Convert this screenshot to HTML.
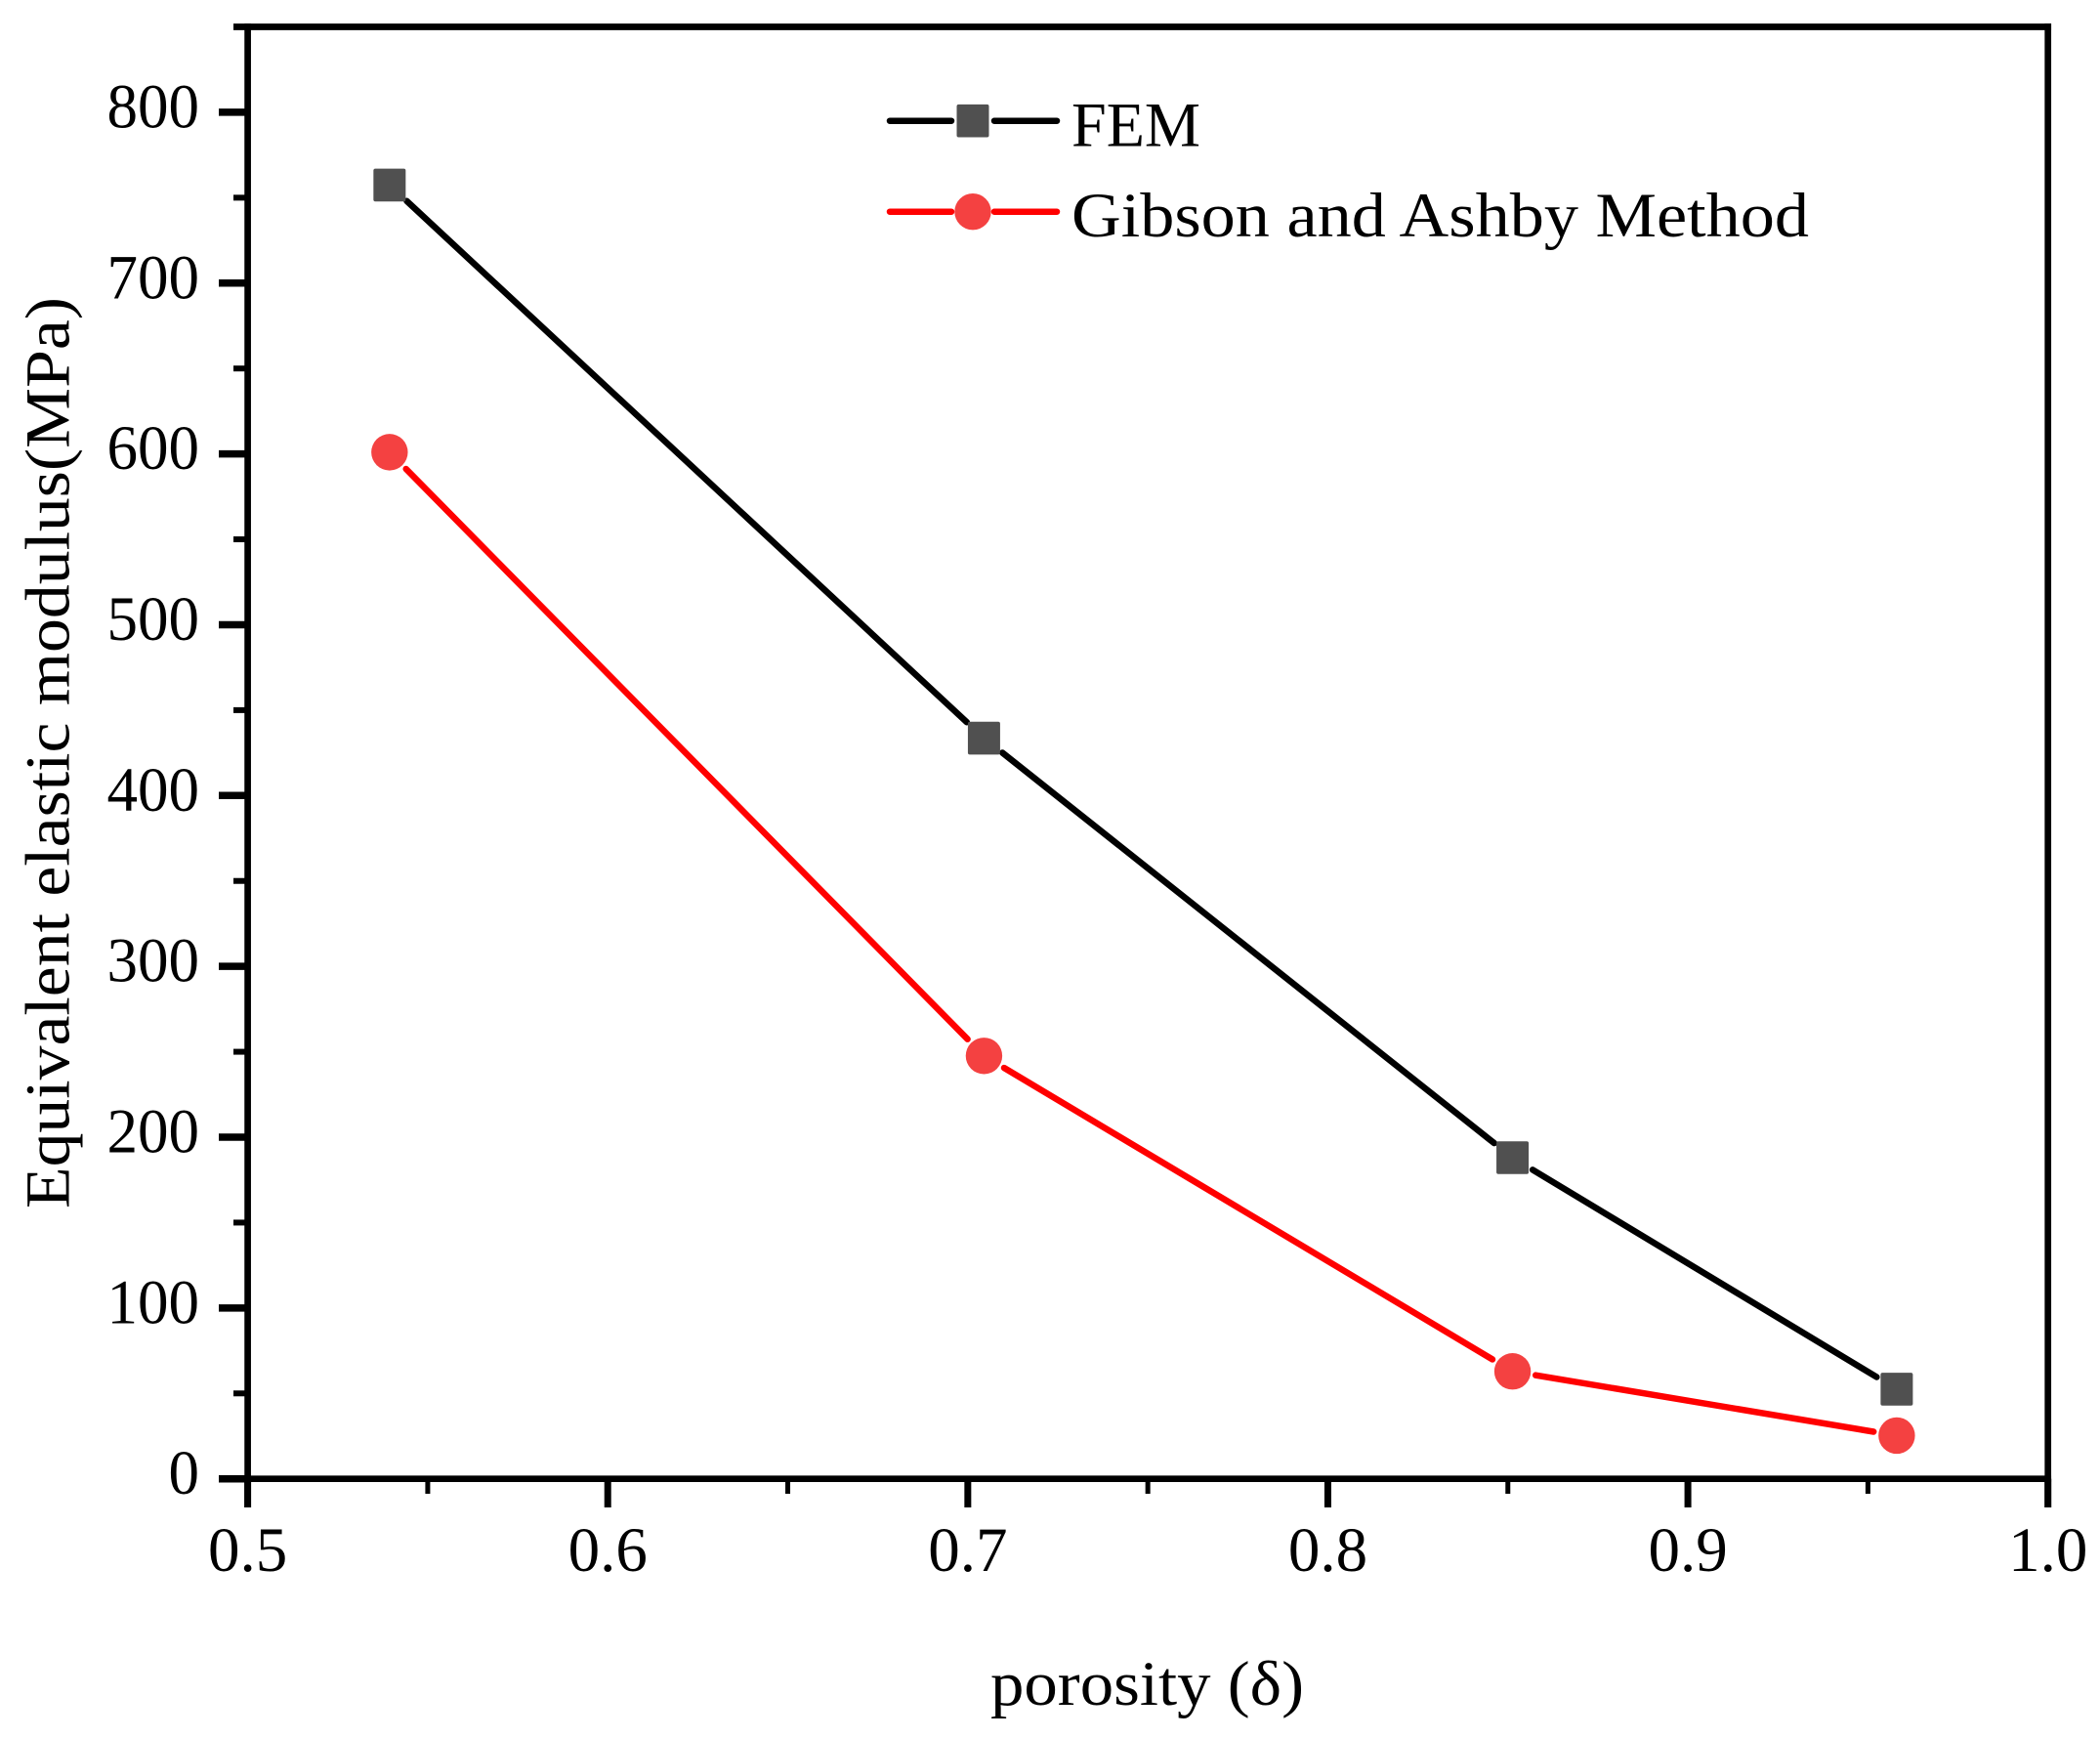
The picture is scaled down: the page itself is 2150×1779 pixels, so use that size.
<!DOCTYPE html>
<html lang="en">
<head>
<meta charset="utf-8">
<title>Equivalent elastic modulus vs porosity</title>
<style>
  html, body { margin: 0; padding: 0; background: #fff; }
  svg { display: block; }
  text { font-family: "Liberation Serif", serif; fill: #000; }
</style>
</head>
<body>
<svg id="chart" xmlns="http://www.w3.org/2000/svg" width="2150" height="1779" viewBox="0 0 2150 1779">
  <rect x="0" y="0" width="2150" height="1779" fill="#ffffff"/>
  <g id="axes"></g>
  <g id="series"></g>
  <g id="legend"></g>
  <text x="1014" y="1745" font-size="65" textLength="321" lengthAdjust="spacingAndGlyphs">porosity (δ)</text>
  <text transform="translate(70.7 1237) rotate(-90)" x="0" y="0" font-size="65" textLength="933" lengthAdjust="spacingAndGlyphs">Equivalent elastic modulus(MPa)</text>
</svg>
<script>
const porosity = [0.5394, 0.7045, 0.8513, 0.958];
const femValues = [757.4, 433.6, 188, 52.5];
const gibsonValues = [601, 247.6, 62.9, 25.3];
const xTickLabels = ["0.5", "0.6", "0.7", "0.8", "0.9", "1.0"];
const xMinorTicks = [0.55, 0.65, 0.75, 0.85, 0.95];
const yTickLabels = ["0", "100", "200", "300", "400", "500", "600", "700", "800"];
const yMinorTicks = [50, 150, 250, 350, 450, 550, 650, 750];
const legendNames = ["FEM", "Gibson and Ashby Method"];

const NS = "http://www.w3.org/2000/svg";
const xDomain = [0.5, 1.0];
const yDomain = [0, 850];
const plotLeft = 253.6, plotRight = 2096.7, plotBottom = 1513.7, plotTop = 27.5;

function xScale(v) {
  return plotLeft + (v - xDomain[0]) / (xDomain[1] - xDomain[0]) * (plotRight - plotLeft);
}
function yScale(v) {
  return plotBottom - (v - yDomain[0]) / (yDomain[1] - yDomain[0]) * (plotBottom - plotTop);
}
function make(tag, attrs, parent) {
  const el = document.createElementNS(NS, tag);
  for (const k in attrs) el.setAttribute(k, attrs[k]);
  parent.appendChild(el);
  return el;
}

const axes = document.getElementById("axes");
const series = document.getElementById("series");
const legend = document.getElementById("legend");

/* axis frame */
const axisWidth = 6.7;
let frame;
frame = make("line", {x1: plotLeft, y1: plotTop - axisWidth / 2, x2: plotLeft, y2: 1543, stroke: "#000", "stroke-width": axisWidth}, axes);


frame = make("line", {x1: plotRight, y1: plotTop - axisWidth / 2, x2: plotRight, y2: 1543, stroke: "#000", "stroke-width": axisWidth}, axes);


frame = make("line", {x1: 239, y1: plotTop, x2: plotRight + axisWidth / 2, y2: plotTop, stroke: "#000", "stroke-width": axisWidth}, axes);


frame = make("line", {x1: 224, y1: plotBottom, x2: plotRight + axisWidth / 2, y2: plotBottom, stroke: "#000", "stroke-width": axisWidth}, axes);



/* x ticks */
xTickLabels.forEach(function (label) {
  const v = parseFloat(label);
  const x = xScale(v);
  const tick = make("line", {x1: x, y1: plotBottom, x2: x, y2: 1543, stroke: "#000", "stroke-width": 7}, axes);
  
  
  const t = make("text", {x: x, y: 1608, "font-size": 65, "text-anchor": "middle"}, axes);
  
  
  t.textContent = label;
});
xMinorTicks.forEach(function (v) {
  const x = xScale(v);
  const tick = make("line", {x1: x, y1: plotBottom, x2: x, y2: 1529, stroke: "#000", "stroke-width": 5}, axes);
  
  
});

/* y ticks */
yTickLabels.forEach(function (label) {
  const v = parseFloat(label);
  const y = yScale(v);
  const tick = make("line", {x1: 224, y1: y, x2: plotLeft, y2: y, stroke: "#000", "stroke-width": 7.5}, axes);
  
  
  const t = make("text", {x: 204, y: y + 15.5, "font-size": 65, "text-anchor": "end", textLength: label.length * 31.5, lengthAdjust: "spacingAndGlyphs"}, axes);
  
  
  t.textContent = label;
});
yMinorTicks.forEach(function (v) {
  const y = yScale(v);
  const tick = make("line", {x1: 239, y1: y, x2: plotLeft, y2: y, stroke: "#000", "stroke-width": 6}, axes);
  
  
});

/* series: segments are trimmed so they stop short of each marker */
const markerGap = 24;
function drawSegments(values, color, name) {
  for (let i = 0; i < values.length - 1; i++) {
    const x1 = xScale(porosity[i]), y1 = yScale(values[i]);
    const x2 = xScale(porosity[i + 1]), y2 = yScale(values[i + 1]);
    const len = Math.hypot(x2 - x1, y2 - y1);
    const ux = (x2 - x1) / len, uy = (y2 - y1) / len;
    const seg = make("line", {
      x1: x1 + ux * markerGap, y1: y1 + uy * markerGap,
      x2: x2 - ux * markerGap, y2: y2 - uy * markerGap,
      stroke: color, "stroke-width": 6.5, "stroke-linecap": "round"
    }, series);
    
    
  }
}
drawSegments(femValues, "#000000", "fem-line-segment");
drawSegments(gibsonValues, "#ff0000", "gibson-line-segment");

femValues.forEach(function (v, i) {
  const cx = xScale(porosity[i]), cy = yScale(v);
  const m = make("rect", {x: cx - 16.5, y: cy - 16.8, width: 33, height: 33.6, rx: 2, fill: "#505050"}, series);
  
  
});
gibsonValues.forEach(function (v, i) {
  const cx = xScale(porosity[i]), cy = yScale(v);
  const m = make("circle", {cx: cx, cy: cy, r: 18.7, fill: "#f44141"}, series);
  
  
});

/* legend */
const legendLineColors = ["#000000", "#ff0000"];
const legendRowY = [123.7, 216.7];
const legendBaseY = [149.3, 242];
const legendTextLen = [132, 755];
legendNames.forEach(function (name, i) {
  const y = legendRowY[i];
  let l = make("line", {x1: 911, y1: y, x2: 974, y2: y, stroke: legendLineColors[i], "stroke-width": 6.5, "stroke-linecap": "round"}, legend);
  
  
  l = make("line", {x1: 1018, y1: y, x2: 1082, y2: y, stroke: legendLineColors[i], "stroke-width": 6.5, "stroke-linecap": "round"}, legend);
  
  
  let m;
  if (i === 0) {
    m = make("rect", {x: 979.5, y: y - 16.8, width: 33, height: 33.6, rx: 2, fill: "#505050"}, legend);
  } else {
    m = make("circle", {cx: 996, cy: y, r: 18.7, fill: "#f44141"}, legend);
  }
  
  
  const t = make("text", {x: 1097, y: legendBaseY[i], "font-size": 65, textLength: legendTextLen[i], lengthAdjust: "spacingAndGlyphs"}, legend);
  
  
  t.textContent = name;
});
</script>
</body>
</html>
